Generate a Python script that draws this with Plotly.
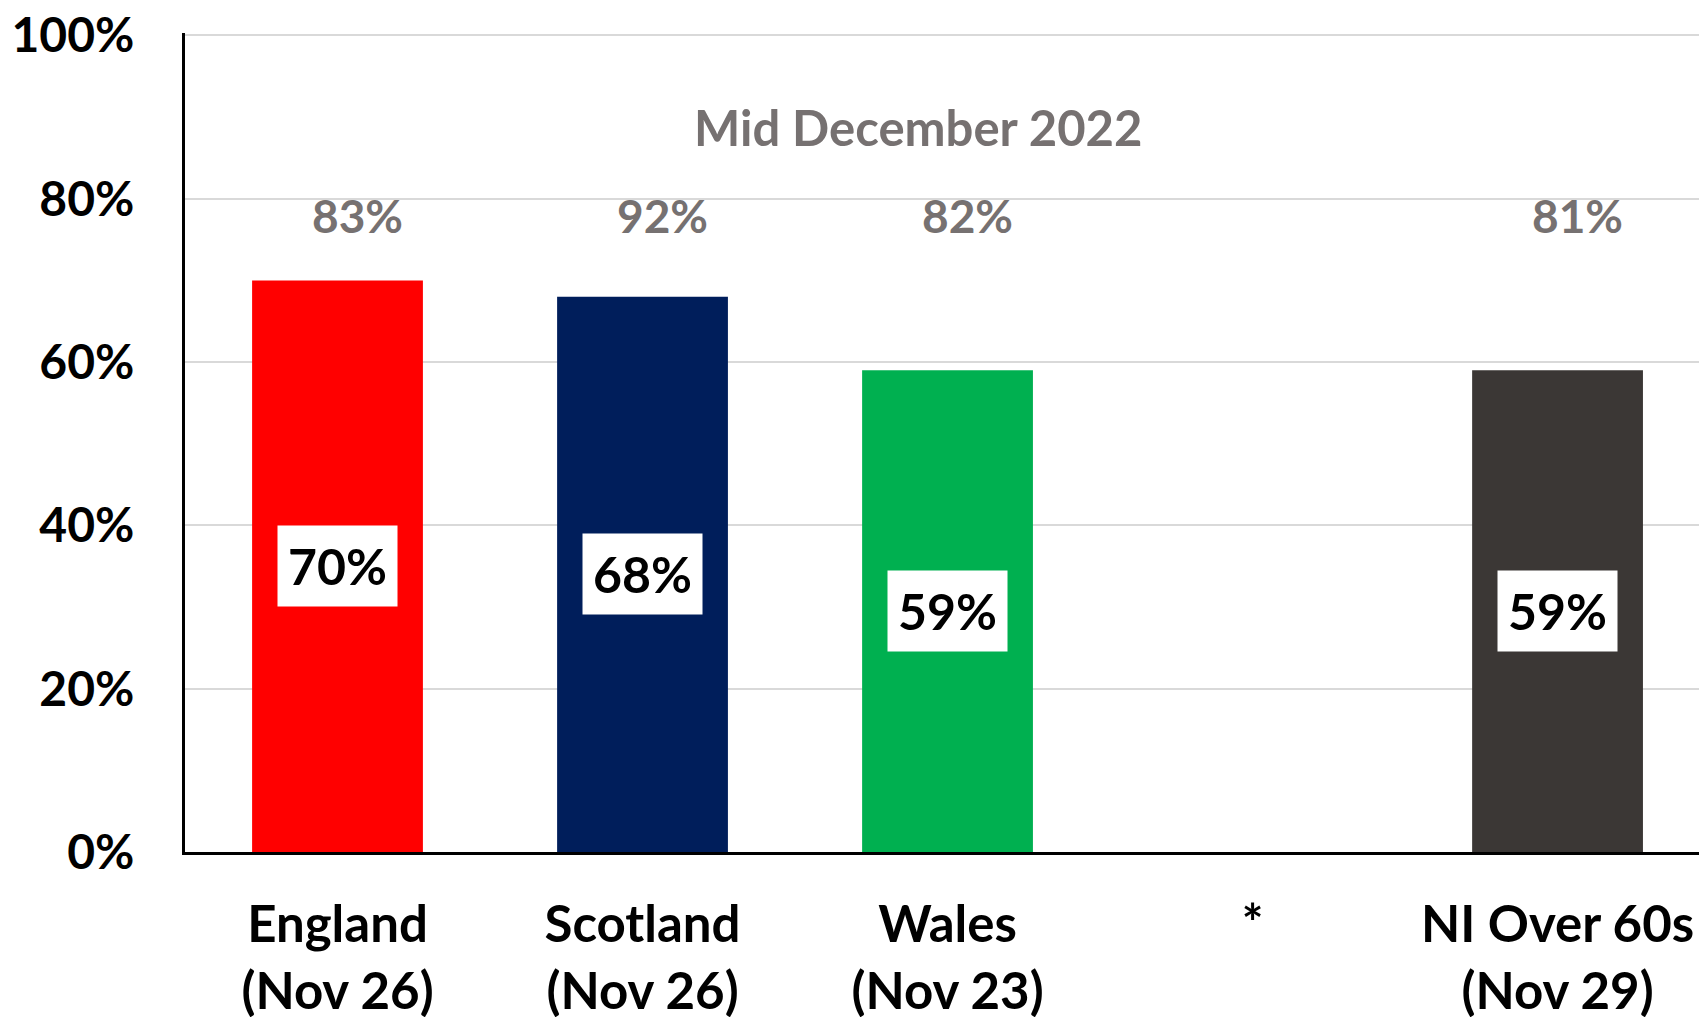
import plotly.graph_objects as go

categories = ["England<br>(Nov 26)", "Scotland<br>(Nov 26)", "Wales<br>(Nov 23)", "*", "NI Over 60s<br>(Nov 29)"]
late_nov = [0.70, 0.68, 0.59, None, 0.59]
mid_dec = [0.83, 0.92, 0.82, None, 0.81]
bar_colors = ["#FF0000", "#001E5B", "#00B050", "#FFFFFF", "#3B3735"]
y_ticks = [0, 0.2, 0.4, 0.6, 0.8, 1.0]
y_tick_text = ["0%", "20%", "40%", "60%", "80%", "100%"]

FONT = "Lato"
GREY_TXT = "#767171"

fig = go.Figure(go.Bar(
    x=categories,
    y=late_nov,
    marker_color=bar_colors,
    marker_line_width=0,
    width=0.56,
    hoverinfo="skip",
))

# white boxed labels in the middle of each bar
for c, v in zip(categories, late_nov):
    if v is None:
        continue
    fig.add_annotation(
        x=c, y=v / 2, text=f"{round(v * 100)}%", showarrow=False,
        font=dict(family=FONT, size=50, color="black", weight="bold"),
        bgcolor="white", borderpad=10,
    )

# grey mid-December figures along the top
for c, v in zip(categories, mid_dec):
    if v is None:
        continue
    fig.add_annotation(
        x=c, y=0.78, text=f"{round(v * 100)}%", showarrow=False, xshift=20,
        font=dict(family=FONT, size=46, color=GREY_TXT, weight="bold"),
    )

fig.add_annotation(
    xref="paper", yref="paper", x=0.4816, y=0.885,
    xanchor="center", yanchor="middle",
    text="Mid December 2022", showarrow=False,
    font=dict(family=FONT, size=49, color=GREY_TXT, weight="bold"),
)

fig.update_xaxes(
    range=[-0.5, 4.49],
    showline=True, linecolor="black", linewidth=3,
    showgrid=False, ticks="",
    tickfont=dict(family=FONT, size=51, color="black", weight="bold"),
    ticklabelstandoff=26,
    automargin=False,
)
fig.update_yaxes(
    range=[0, 1.003],
    tickvals=y_ticks, ticktext=y_tick_text,
    showline=True, linecolor="black", linewidth=3,
    showgrid=True, gridcolor="#D9D9D9", gridwidth=2,
    zeroline=False, ticks="",
    tickfont=dict(family=FONT, size=48, color="black", weight="bold"),
    ticklabelstandoff=38,
    ticklabeloverflow="allow",
    automargin=False,
)

# page body adds ~8px offset, so margins are trimmed to match
fig.update_layout(
    width=1707, height=1017,
    margin=dict(l=177, r=8, t=25, b=173),
    plot_bgcolor="white", paper_bgcolor="white",
    showlegend=False,
)

fig.write_html("out.html")
